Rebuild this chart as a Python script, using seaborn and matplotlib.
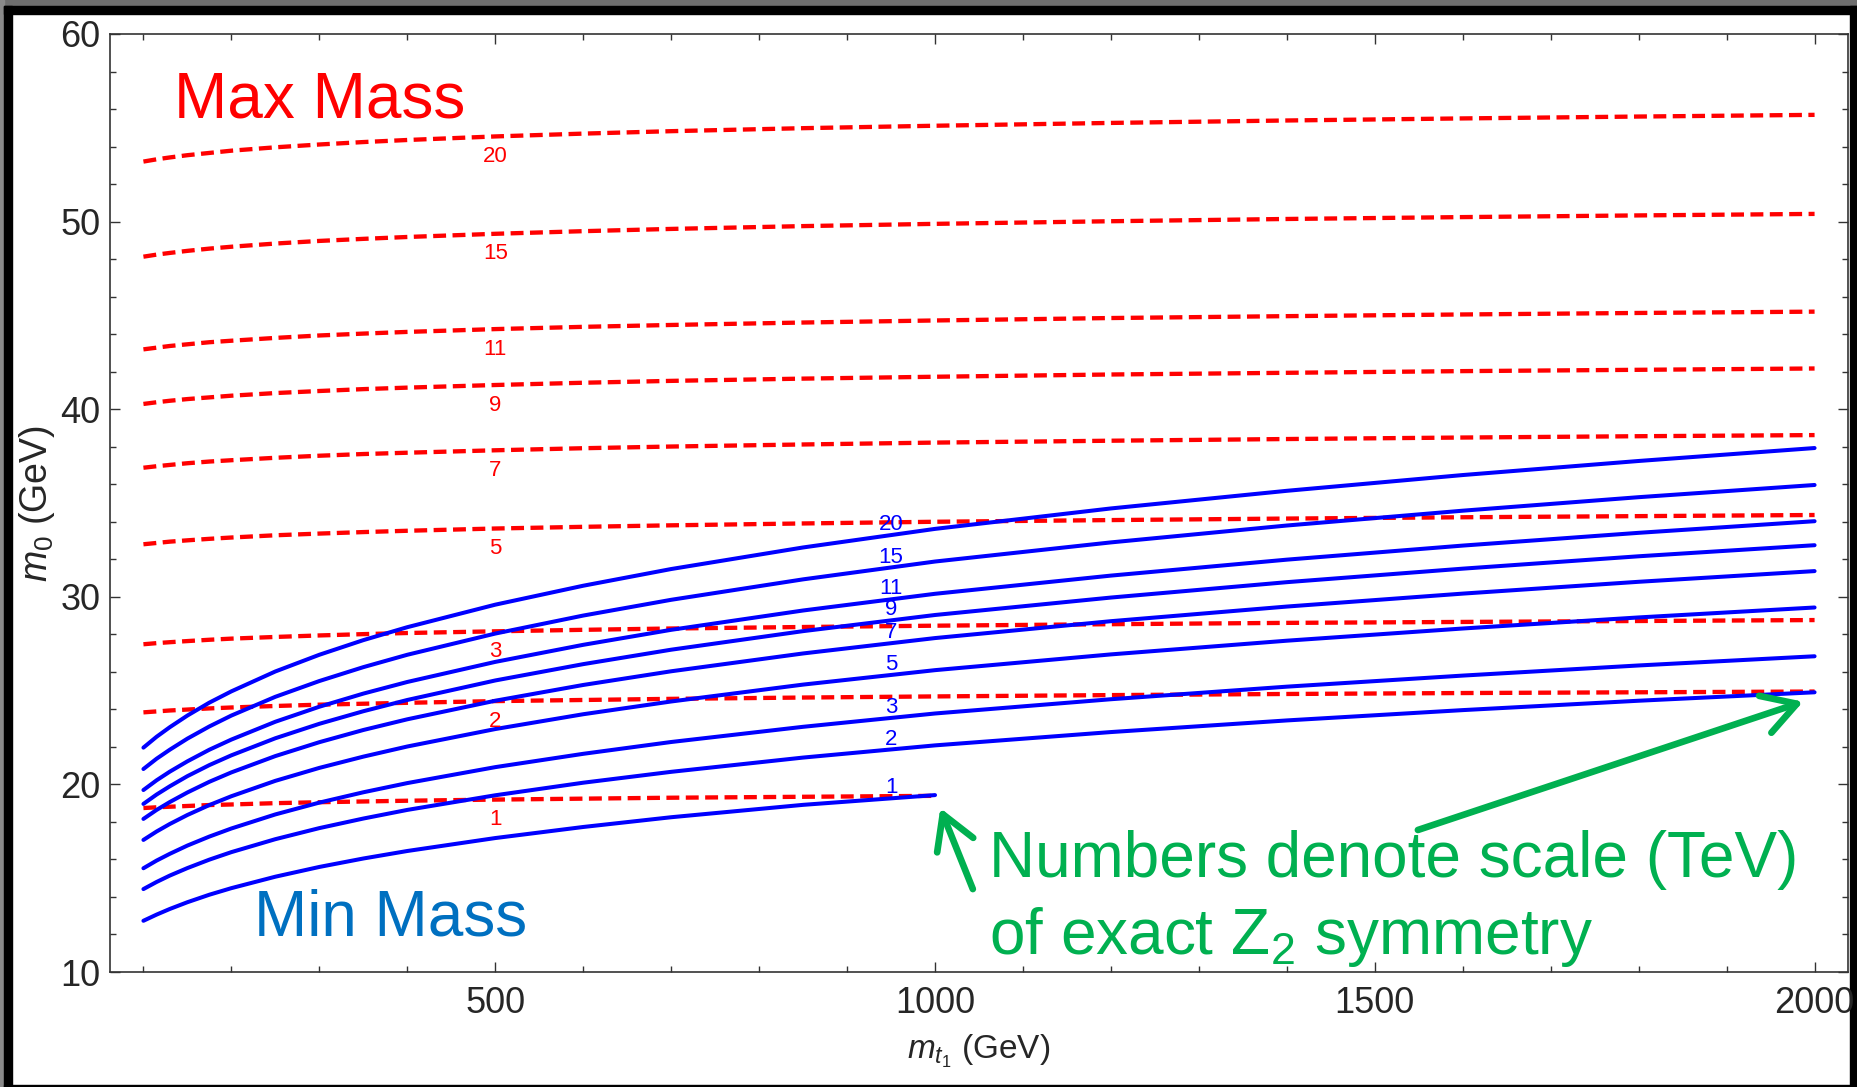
"""
Min / max m0 mass versus stop mass, labelled by the scale (TeV) of exact Z2 symmetry
"""
import numpy as np
import pandas as pd
import matplotlib
matplotlib.use("Agg")
import matplotlib.pyplot as plt
from matplotlib import font_manager
from matplotlib.patches import Rectangle
from matplotlib.ticker import MultipleLocator
import seaborn as sns

sns.set_style("ticks")
installed = {f.name for f in font_manager.fontManager.ttflist}
TICK_FONT = "Liberation Sans Narrow" if "Liberation Sans Narrow" in installed else "Liberation Sans"
plt.rcParams["font.family"] = ["Liberation Sans", "DejaVu Sans"]
plt.rcParams["mathtext.fontset"] = "custom"
plt.rcParams["mathtext.rm"] = TICK_FONT
plt.rcParams["mathtext.it"] = TICK_FONT + ":italic"

# stop mass grid (GeV)
M_STOP = [100, 115, 130, 150, 175, 200, 250, 300, 350, 400, 500, 600, 700, 850, 1000,
          1200, 1400, 1600, 1800, 2000]
SCALES = [1, 2, 3, 5, 7, 9, 11, 15, 20]

# Max mass (red dashed), m0 in GeV; scale 1 stops at 1000 GeV
MAX_1 = [18.74, 18.78, 18.81, 18.85, 18.90, 18.93, 19.00, 19.05, 19.09, 19.13, 19.19, 19.24,
         19.29, 19.34, 19.39]
MAX_2 = [23.84, 23.89, 23.94, 23.99, 24.05, 24.10, 24.18, 24.25, 24.30, 24.35, 24.44, 24.50,
         24.56, 24.63, 24.69, 24.76, 24.82, 24.87, 24.91, 24.95]
MAX_3 = [27.47, 27.53, 27.58, 27.64, 27.71, 27.77, 27.86, 27.94, 28.01, 28.07, 28.16, 28.24,
         28.31, 28.39, 28.46, 28.54, 28.61, 28.66, 28.71, 28.76]
MAX_5 = [32.80, 32.87, 32.94, 33.01, 33.09, 33.16, 33.28, 33.37, 33.45, 33.52, 33.64, 33.73,
         33.81, 33.91, 34.00, 34.09, 34.17, 34.24, 34.30, 34.36]
MAX_7 = [36.88, 36.96, 37.03, 37.12, 37.21, 37.28, 37.41, 37.52, 37.61, 37.68, 37.81, 37.92,
         38.01, 38.12, 38.22, 38.32, 38.41, 38.49, 38.56, 38.62]
MAX_9 = [40.28, 40.37, 40.45, 40.54, 40.63, 40.72, 40.86, 40.97, 41.07, 41.15, 41.29, 41.41,
         41.51, 41.63, 41.73, 41.85, 41.94, 42.03, 42.10, 42.17]
MAX_11 = [43.19, 43.28, 43.37, 43.46, 43.57, 43.65, 43.80, 43.93, 44.03, 44.12, 44.27, 44.39,
          44.49, 44.62, 44.73, 44.86, 44.96, 45.05, 45.13, 45.20]
MAX_15 = [48.13, 48.24, 48.33, 48.44, 48.56, 48.66, 48.83, 48.97, 49.08, 49.18, 49.35, 49.49,
          49.61, 49.76, 49.88, 50.02, 50.14, 50.24, 50.33, 50.41]
MAX_20 = [53.20, 53.32, 53.42, 53.54, 53.66, 53.78, 53.96, 54.11, 54.24, 54.35, 54.54, 54.69,
          54.82, 54.98, 55.11, 55.26, 55.39, 55.50, 55.60, 55.69]

# Min mass (blue solid)
MIN_1 = [12.73, 13.06, 13.36, 13.72, 14.12, 14.47, 15.08, 15.60, 16.05, 16.45, 17.14, 17.73,
         18.25, 18.91, 19.43]
MIN_2 = [14.42, 14.80, 15.14, 15.54, 15.99, 16.39, 17.08, 17.67, 18.18, 18.64, 19.42, 20.09,
         20.67, 21.43, 22.08, 22.79, 23.41, 23.96, 24.46, 24.91]
MIN_3 = [15.53, 15.94, 16.30, 16.74, 17.22, 17.65, 18.40, 19.03, 19.58, 20.07, 20.92, 21.63,
         22.26, 23.07, 23.78, 24.54, 25.21, 25.80, 26.34, 26.83]
MIN_5 = [17.04, 17.49, 17.89, 18.37, 18.90, 19.37, 20.19, 20.88, 21.48, 22.02, 22.95, 23.74,
         24.42, 25.32, 26.09, 26.93, 27.66, 28.31, 28.90, 29.43]
MIN_7 = [18.16, 18.64, 19.06, 19.57, 20.14, 20.64, 21.51, 22.25, 22.90, 23.47, 24.46, 25.30,
         26.03, 26.98, 27.80, 28.70, 29.48, 30.17, 30.80, 31.37]
MIN_9 = [18.96, 19.46, 19.90, 20.44, 21.03, 21.55, 22.46, 23.23, 23.90, 24.50, 25.54, 26.41,
         27.18, 28.17, 29.03, 29.96, 30.78, 31.50, 32.16, 32.75]
MIN_11 = [19.70, 20.22, 20.68, 21.23, 21.85, 22.39, 23.34, 24.14, 24.84, 25.46, 26.53, 27.44,
          28.24, 29.27, 30.16, 31.13, 31.98, 32.73, 33.41, 34.03]
MIN_15 = [20.82, 21.37, 21.85, 22.44, 23.09, 23.67, 24.67, 25.51, 26.25, 26.91, 28.04, 29.00,
          29.84, 30.93, 31.88, 32.90, 33.80, 34.59, 35.31, 35.96]
MIN_20 = [21.96, 22.54, 23.05, 23.67, 24.36, 24.96, 26.02, 26.91, 27.69, 28.38, 29.58, 30.59,
          31.48, 32.63, 33.62, 34.71, 35.65, 36.49, 37.24, 37.93]

MAX_CURVES = [MAX_1, MAX_2, MAX_3, MAX_5, MAX_7, MAX_9, MAX_11, MAX_15, MAX_20]
MIN_CURVES = [MIN_1, MIN_2, MIN_3, MIN_5, MIN_7, MIN_9, MIN_11, MIN_15, MIN_20]

RED = "#FF0000"
BLUE = "#0000FF"
PPT_BLUE = "#0070C0"
PPT_GREEN = "#00B050"

W, H = 1858, 1087
fig = plt.figure(figsize=(W / 100, H / 100), dpi=100, facecolor="white")

# slide frame: grey strip + black border
def frame(x0, y0, x1, y1, color):
    fig.patches.append(Rectangle((x0 / W, 1 - y1 / H), (x1 - x0) / W, (y1 - y0) / H,
                                 transform=fig.transFigure, color=color, zorder=-1))

frame(0, 0, W, 6, "#6e6e6e")
frame(0, 0, 4, H, "#8a8a8a")
frame(4, 6, W, 14, "black")
frame(4, 6, 12, H, "black")
frame(1850, 6, W, H, "black")
frame(4, 1085, W, H, "black")

ax = fig.add_axes([110 / W, 1 - 972 / H, (1848 - 110) / W, (972 - 34) / H])
ax.set_facecolor("white")

for s, ys in zip(SCALES, MAX_CURVES):
    d = pd.DataFrame({"mt": M_STOP[:len(ys)], "m0": ys})
    sns.lineplot(data=d, x="mt", y="m0", ax=ax, color=RED, lw=3.1,
                 linestyle=(0, (3, 1.5)), dash_capstyle="butt")
    ax.annotate(str(s), xy=(500, np.interp(500, d["mt"], d["m0"])), xytext=(0, -14.5),
                textcoords="offset points", ha="center", va="center",
                color=RED, fontsize=16, family=TICK_FONT)

for s, ys in zip(SCALES, MIN_CURVES):
    d = pd.DataFrame({"mt": M_STOP[:len(ys)], "m0": ys})
    sns.lineplot(data=d, x="mt", y="m0", ax=ax, color=BLUE, lw=2.9)
    ax.annotate(str(s), xy=(950, np.interp(950, d["mt"], d["m0"])), xytext=(0, 7.5),
                textcoords="offset points", ha="center", va="center",
                color=BLUE, fontsize=16, family=TICK_FONT)

ax.set_xlim(62, 2038)
ax.set_ylim(10, 60)
ax.xaxis.set_major_locator(MultipleLocator(500))
ax.xaxis.set_minor_locator(MultipleLocator(100))
ax.yaxis.set_major_locator(MultipleLocator(10))
ax.yaxis.set_minor_locator(MultipleLocator(2))
ax.tick_params(which="both", direction="in", top=True, right=True, color="#333333", width=1)
ax.tick_params(which="major", length=7)
ax.tick_params(which="minor", length=4.3)
ax.tick_params(axis="y", pad=7)
ax.tick_params(axis="x", pad=10)
for lab in ax.get_xticklabels() + ax.get_yticklabels():
    lab.set_family(TICK_FONT)
    lab.set_fontsize(26)
for sp in ax.spines.values():
    sp.set_color("#333333")
    sp.set_linewidth(1.2)

ax.set_xlabel(r"$m_{t_1}$ (GeV)", fontsize=24, family=TICK_FONT, va="center")
ax.set_ylabel(r"$m_0$ (GeV)", fontsize=27, family=TICK_FONT, va="center")
ax.xaxis.set_label_coords(0.5, -0.085)
ax.yaxis.set_label_coords(-0.042, 0.5)

# slide annotations
ax.text(135, 55.56, "Max Mass", color=RED, fontsize=46, ha="left", va="baseline")
ax.text(226, 11.97, "Min Mass", color=PPT_BLUE, fontsize=46, ha="left", va="baseline")
ax.text(1061, 15.08, "Numbers denote scale (TeV)", color=PPT_GREEN, fontsize=46,
        ha="left", va="baseline")
ax.text(1061, 10.96, "of exact Z$_2$ symmetry", color=PPT_GREEN, fontsize=46,
        ha="left", va="baseline")

arrow = dict(arrowstyle="->, head_length=0.6, head_width=0.35", color=PPT_GREEN,
             lw=4.8, mutation_scale=40, shrinkA=0, shrinkB=0)
ax.annotate("", xy=(1006, 18.74), xytext=(1043, 14.42), arrowprops=arrow)
ax.annotate("", xy=(1987, 24.41), xytext=(1549, 17.57), arrowprops=arrow)

fig.savefig("out.png", dpi=100, facecolor=fig.get_facecolor())
